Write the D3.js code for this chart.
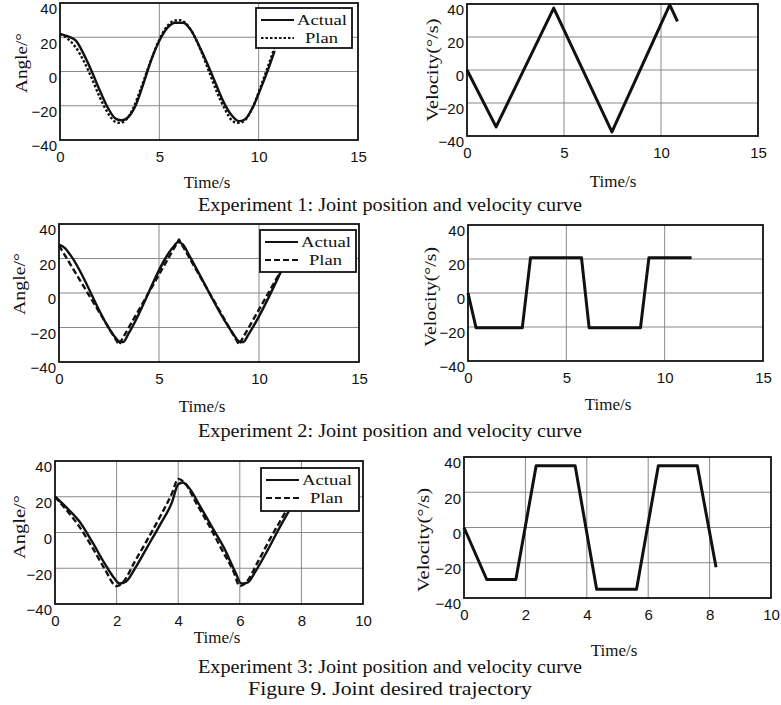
<!DOCTYPE html>
<html>
<head>
<meta charset="utf-8">
<script src="https://cdn.jsdelivr.net/npm/d3@7"></script>
<style>
body { margin: 0; background: #fff; }
svg { display: block; }
.tick text { font-family: "Liberation Sans", Arial, sans-serif; font-size: 15px; fill: #111; }
.serif { font-family: "Liberation Serif", "Times New Roman", serif; fill: #111; }
</style>
</head>
<body>
<svg id="chart" width="781" height="705"></svg>
<script>
// tick values
var angleTicks = [-40, -20, 0, 20, 40];
var timeTicks15 = [0, 5, 10, 15];
var timeTicks10 = [0, 2, 4, 6, 8, 10];

// experiment 1 - [time, value]
var exp1AngleActual = [[0,22],[0.4,20.5],[0.8,18],[1.2,10],[1.6,0],[2.0,-11],[2.4,-21],[2.8,-27.5],[3.1,-28.5],[3.4,-27],[3.8,-20],[4.2,-7],[4.6,7],[5.0,18],[5.4,25.5],[5.8,28.5],[6.2,28.5],[6.6,24],[7.0,15],[7.4,5],[7.8,-6],[8.2,-17],[8.6,-25],[9.0,-29],[9.3,-28],[9.7,-21],[10.1,-10],[10.5,2],[10.8,12]];
var exp1AnglePlan = [[0,22],[0.4,19],[0.8,14],[1.2,6],[1.6,-4],[2.0,-15],[2.4,-24],[2.8,-29.5],[3.0,-30],[3.3,-28.5],[3.7,-21],[4.1,-9],[4.5,4],[4.9,16],[5.3,25],[5.7,29.5],[6.0,30],[6.3,28.5],[6.7,22],[7.1,12],[7.5,0],[7.9,-12],[8.3,-22],[8.7,-29],[9.0,-30],[9.3,-28.5],[9.7,-21],[10.1,-9],[10.5,4],[10.8,14]];
var exp1Velocity = [[0,0],[1.5,-34.5],[4.47,37.5],[7.47,-37.5],[10.45,39.5],[10.85,29.5]];

// experiment 2
var exp2AngleActual = [[0,28],[0.3,26],[0.6,21.5],[2.8,-25.5],[3.0,-28],[3.2,-28.5],[3.5,-23],[5.7,26.5],[5.95,29.5],[6.2,28],[6.5,22],[8.7,-23.5],[9.0,-28],[9.2,-28.5],[9.5,-23.5],[11.2,15]];
var exp2AnglePlan = [[0,27.5],[3.0,-30],[6.0,31],[9.0,-30],[11.3,17]];
var exp2Velocity = [[0,0],[0.41,-20.5],[2.76,-20.5],[3.18,20.8],[5.77,20.8],[6.16,-20.5],[8.77,-20.5],[9.2,20.8],[11.37,20.8]];

// experiment 3
var exp3AngleActual = [[0,20],[0.4,13.5],[0.8,6],[1.2,-5],[1.6,-17],[1.9,-25],[2.1,-28.5],[2.3,-27.5],[2.6,-20],[3.0,-8],[3.4,4],[3.8,17],[4.0,27],[4.15,28],[4.35,25],[4.7,15],[5.1,3],[5.5,-9],[5.85,-22],[6.05,-28.5],[6.25,-28],[6.5,-22],[6.9,-10],[7.3,3],[7.7,15],[8.0,23]];
var exp3AnglePlan = [[0,20],[0.4,12],[0.8,3],[1.2,-8],[1.6,-20],[2.0,-30],[2.2,-28],[2.6,-16],[3.0,-4],[3.4,8.5],[3.8,22],[4.0,30],[4.2,28],[4.6,16],[5.0,4],[5.4,-9],[5.8,-22],[6.0,-30],[6.2,-28],[6.6,-16],[7.0,-3],[7.4,9],[7.8,21],[8.0,27]];
var exp3Velocity = [[0,0],[0.74,-29.5],[1.69,-29.5],[2.35,35],[3.62,35],[4.32,-35],[5.62,-35],[6.33,35],[7.6,35],[8.21,-22.5]];

var legendLabels = ["Actual", "Plan"];
var captions = ["Experiment 1: Joint position and velocity curve", "Experiment 2: Joint position and velocity curve", "Experiment 3: Joint position and velocity curve", "Figure 9. Joint desired trajectory"];

var svg = d3.select("#chart");

var panels = [
	{box: {x0: 60, x1: 358, y0: 3, y1: 140}, xMax: 15, xTicks: timeTicks15,
	 series: [{data: exp1AngleActual, dash: null, w: 2.4, smooth: true}, {data: exp1AnglePlan, dash: "2.5,2", w: 2.4, smooth: true}],
	 yLabel: "Angle/°", yLab: [21, 63, 60], xLab: [207, 183], legend: {x0: 256, x1: 352, y0: 8, y1: 48, dash: "2.5,2"}},
	{box: {x0: 467, x1: 758, y0: 4, y1: 136}, xMax: 15, xTicks: timeTicks15,
	 series: [{data: exp1Velocity, dash: null, w: 3, smooth: false}],
	 yLabel: "Velocity(°/s)", yLab: [432, 70, 103], xLab: [613, 182]},
	{box: {x0: 59, x1: 359, y0: 224, y1: 362}, xMax: 15, xTicks: timeTicks15,
	 series: [{data: exp2AngleActual, dash: null, w: 2.4, smooth: true}, {data: exp2AnglePlan, dash: "6,3", w: 2.4, smooth: false}],
	 yLabel: "Angle/°", yLab: [19, 284, 62], xLab: [202, 407], legend: {x0: 260, x1: 356, y0: 230, y1: 272, dash: "6,3"}},
	{box: {x0: 468, x1: 763, y0: 225, y1: 361}, xMax: 15, xTicks: timeTicks15,
	 series: [{data: exp2Velocity, dash: null, w: 3, smooth: false}],
	 yLabel: "Velocity(°/s)", yLab: [430, 297, 100], xLab: [608, 405]},
	{box: {x0: 55, x1: 363, y0: 461, y1: 604}, xMax: 10, xTicks: timeTicks10,
	 series: [{data: exp3AngleActual, dash: null, w: 2.4, smooth: true}, {data: exp3AnglePlan, dash: "6,3", w: 2.4, smooth: true}],
	 yLabel: "Angle/°", yLab: [19, 527, 64], xLab: [217, 638], legend: {x0: 261, x1: 359, y0: 468, y1: 511, dash: "6,3"}},
	{box: {x0: 464, x1: 771, y0: 457, y1: 598}, xMax: 10, xTicks: timeTicks10,
	 series: [{data: exp3Velocity, dash: null, w: 3, smooth: false}],
	 yLabel: "Velocity(°/s)", yLab: [423, 540, 104], xLab: [614, 651]}
];

panels.forEach(function(p) {
	var b = p.box;
	var x = d3.scaleLinear().domain([0, p.xMax]).range([b.x0, b.x1]);
	var y = d3.scaleLinear().domain([-40, 40]).range([b.y1, b.y0]);
	var g = svg.append("g");

	// grid
	g.selectAll(".vgrid").data(p.xTicks.slice(1, -1)).enter().append("line")
		.attr("x1", function(d) { return x(d); }).attr("x2", function(d) { return x(d); })
		.attr("y1", b.y0).attr("y2", b.y1)
		.attr("stroke", "#8a8a8a").attr("stroke-width", 1);
	g.selectAll(".hgrid").data(angleTicks.slice(1, -1)).enter().append("line")
		.attr("y1", function(d) { return y(d); }).attr("y2", function(d) { return y(d); })
		.attr("x1", b.x0).attr("x2", b.x1)
		.attr("stroke", "#8a8a8a").attr("stroke-width", 1);

	// axes
	var ya = g.append("g").attr("transform", "translate(" + b.x0 + ",0)")
		.call(d3.axisLeft(y).tickValues(angleTicks).tickSize(0).tickPadding(3));
	ya.select(".domain").remove();
	ya.selectAll("text").attr("y", 6);
	var xa = g.append("g").attr("transform", "translate(0," + b.y1 + ")")
		.call(d3.axisBottom(x).tickValues(p.xTicks).tickSize(0).tickPadding(11));
	xa.select(".domain").remove();

	// lines
	p.series.forEach(function(s) {
		var line = d3.line()
			.x(function(d) { return x(d[0]); })
			.y(function(d) { return y(d[1]); })
			.curve(s.smooth ? d3.curveMonotoneX : d3.curveLinear);
		g.append("path")
			.datum(s.data)
			.attr("fill", "none")
			.attr("stroke", "#111")
			.attr("stroke-width", s.w)
			.attr("stroke-linejoin", "round")
			.attr("stroke-dasharray", s.dash)
			.attr("d", line);
	});

	// box
	g.append("rect")
		.attr("x", b.x0).attr("y", b.y0)
		.attr("width", b.x1 - b.x0).attr("height", b.y1 - b.y0)
		.attr("fill", "none").attr("stroke", "#111").attr("stroke-width", 1.8);

	// legend
	if (p.legend) {
		var L = p.legend;
		g.append("rect")
			.attr("x", L.x0).attr("y", L.y0)
			.attr("width", L.x1 - L.x0).attr("height", L.y1 - L.y0)
			.attr("fill", "#fff").attr("stroke", "#111").attr("stroke-width", 1.8);
		[0, 1].forEach(function(i) {
			var ly = L.y0 + 12 + i * 18;
			g.append("line")
				.attr("x1", L.x0 + 5).attr("x2", L.x0 + 38)
				.attr("y1", ly).attr("y2", ly)
				.attr("stroke", "#111").attr("stroke-width", 2)
				.attr("stroke-dasharray", i == 0 ? null : L.dash);
			g.append("text").attr("class", "serif")
				.attr("x", L.x0 + (i == 0 ? 41 : 49)).attr("y", ly + 5)
				.attr("textLength", i == 0 ? 50 : 33).attr("lengthAdjust", "spacingAndGlyphs")
				.style("font-size", "15px")
				.text(legendLabels[i]);
		});
	}

	// axis labels
	g.append("text").attr("class", "serif")
		.attr("transform", "translate(" + p.yLab[0] + "," + p.yLab[1] + ") rotate(-90)")
		.attr("text-anchor", "middle").attr("dy", "0.35em")
		.attr("textLength", p.yLab[2]).attr("lengthAdjust", "spacingAndGlyphs")
		.style("font-size", "17px")
		.text(p.yLabel);
	g.append("text").attr("class", "serif")
		.attr("x", p.xLab[0]).attr("y", p.xLab[1] + 5)
		.attr("text-anchor", "middle")
		.style("font-size", "17px")
		.text("Time/s");
});

// captions
var capY = [211, 437, 673, 695];
var capLen = [384, 384, 384, 284];
captions.forEach(function(c, i) {
	svg.append("text").attr("class", "serif")
		.attr("x", 390).attr("y", capY[i])
		.attr("text-anchor", "middle")
		.attr("textLength", capLen[i]).attr("lengthAdjust", "spacingAndGlyphs")
		.style("font-size", "18px")
		.text(c);
});
</script>
</body>
</html>
